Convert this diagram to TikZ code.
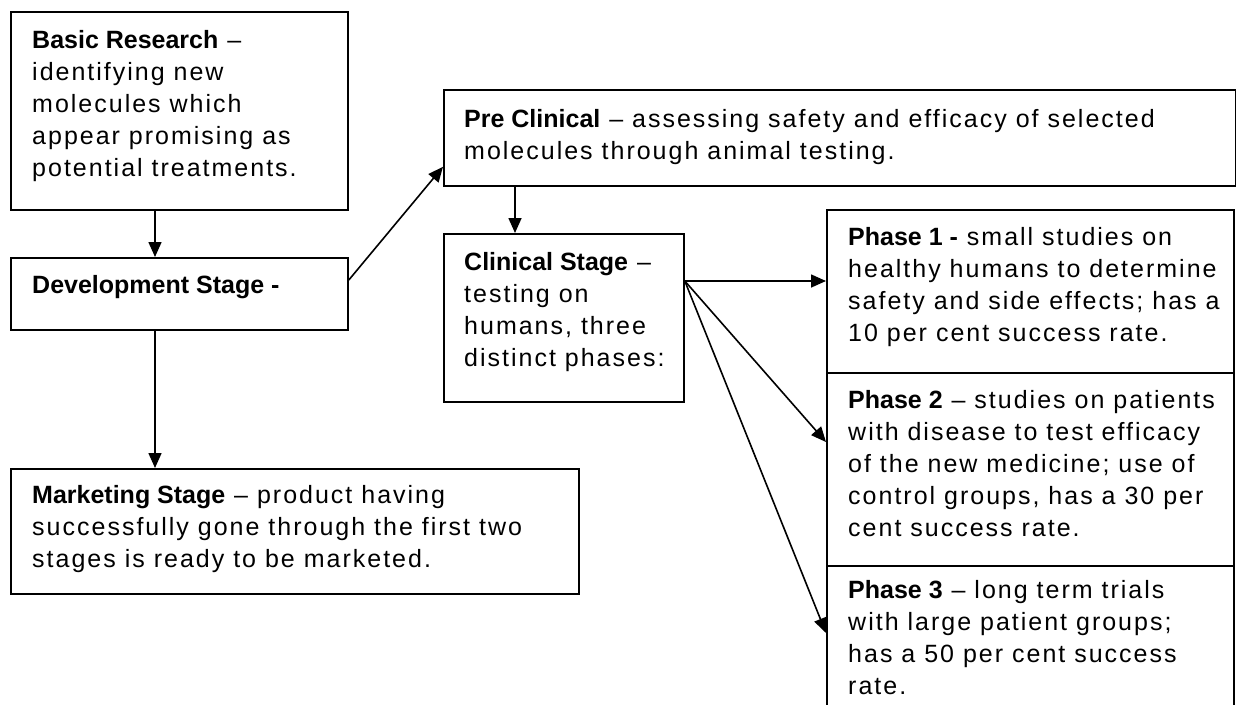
\documentclass[tikz,border=0pt]{standalone}
\usepackage{fontspec}
\setmainfont{Liberation Sans}[LetterSpace=8, BoldFeatures={LetterSpace=0}]
\usetikzlibrary{arrows.meta}
\begin{document}
\begin{tikzpicture}[x=1pt,y=-1pt,
  box/.style={draw, line width=1.8pt, anchor=north west, inner sep=0pt},
  txt/.style={anchor=base west, inner sep=0pt, font=\fontsize{25}{32}\selectfont},
  arr/.style={-{Triangle[length=15pt,width=13pt]}, line width=1.6pt}]
\useasboundingbox (0,0) rectangle (1236,704);
\clip (0,0) rectangle (1236,704);
% boxes
\node[box, minimum width=337pt, minimum height=198pt] (br) at (10,11) {};
\node[box, minimum width=337pt, minimum height=72pt] (dev) at (10,257) {};
\node[box, minimum width=568pt, minimum height=125pt] (mkt) at (10,468) {};
\node[box, minimum width=792pt, minimum height=96pt] (pre) at (443,89) {};
\node[box, minimum width=240pt, minimum height=168pt] (clin) at (443,233) {};
\node[box, minimum width=407pt, minimum height=163pt] (p1) at (826,209) {};
\node[box, minimum width=407pt, minimum height=193pt] (p2) at (826,372) {};
\node[box, minimum width=407pt, minimum height=160pt] (p3) at (826,565) {};
% texts
\node[txt] (br-t) at ([shift={(22,37)}]br.north west) {\parbox[t]{800pt}{\raggedright
  \textbf{Basic Research} –\\ identifying new\\ molecules which\\ appear promising as\\ potential treatments.}};
\node[txt] (dev-t) at ([shift={(22,36)}]dev.north west) {\parbox[t]{800pt}{\raggedright
  \textbf{Development Stage -}}};
\node[txt] (mkt-t) at ([shift={(22,35)}]mkt.north west) {\parbox[t]{800pt}{\raggedright
  \textbf{Marketing Stage} – product having\\ successfully gone through the first two\\ stages is ready to be marketed.}};
\node[txt] (pre-t) at ([shift={(21,38)}]pre.north west) {\parbox[t]{800pt}{\raggedright
  \textbf{Pre Clinical} – assessing safety and efficacy of selected\\ molecules through animal testing.}};
\node[txt] (clin-t) at ([shift={(21,37)}]clin.north west) {\parbox[t]{800pt}{\raggedright
  \textbf{Clinical Stage} –\\ testing on\\ humans, three\\ distinct phases:}};
\node[txt] (p1-t) at ([shift={(22,36)}]p1.north west) {\parbox[t]{800pt}{\raggedright
  \textbf{Phase 1 -} small studies on\\ healthy humans to determine\\ safety and side effects; has a\\ 10 per cent success rate.}};
\node[txt] (p2-t) at ([shift={(22,36)}]p2.north west) {\parbox[t]{800pt}{\raggedright
  \textbf{Phase 2} – studies on patients\\ with disease to test efficacy\\ of the new medicine; use of\\ control groups, has a 30 per\\ cent success rate.}};
\node[txt] (p3-t) at ([shift={(22,33)}]p3.north west) {\parbox[t]{800pt}{\raggedright
  \textbf{Phase 3} – long term trials\\ with large patient groups;\\ has a 50 per cent success\\ rate.}};
% connectors
\coordinate (cx1) at (155,0);
\coordinate (cx2) at (515,0);
\draw[arr] (br.south -| cx1) -- (dev.north -| cx1);
\draw[arr] (dev.south -| cx1) -- (mkt.north -| cx1);
\draw[arr] ([shift={(0,23)}]dev.north east) -- ([shift={(0,-20)}]pre.south west);
\draw[arr] (pre.south -| cx2) -- (clin.north -| cx2);
\coordinate (cs) at ([shift={(0,48)}]clin.north east);
\draw[arr] (cs) -- (cs -| p1.west);
\draw[arr] (cs) -- ([shift={(0,70)}]p2.north west);
\draw[arr] (cs) -- ([shift={(0,68)}]p3.north west);
\end{tikzpicture}
\end{document}
